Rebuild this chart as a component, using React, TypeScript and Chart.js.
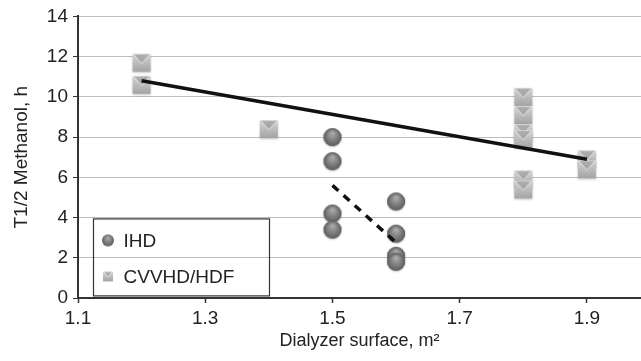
import React, { useEffect, useRef } from "react";
import { Chart, registerables } from "chart.js";

Chart.register(...registerables);

// ---- data ----
const ihdX = [1.5, 1.5, 1.5, 1.5, 1.6, 1.6, 1.6, 1.6];
const ihdY = [8.0, 6.8, 4.2, 3.4, 4.8, 3.2, 2.1, 1.8];
const cvvX = [1.2, 1.2, 1.4, 1.8, 1.8, 1.8, 1.8, 1.8, 1.8, 1.9, 1.9];
const cvvY = [11.7, 10.6, 8.4, 10.0, 9.1, 8.2, 7.9, 5.9, 5.4, 6.9, 6.4];
const ihdTrendX = [1.5, 1.6];
const ihdTrendY = [5.6, 2.75];
const cvvTrendX = [1.2, 1.9];
const cvvTrendY = [10.8, 6.9];
const xTickValues = [1.1, 1.3, 1.5, 1.7, 1.9];
const seriesLabels = ["IHD", "CVVHD/HDF"];

const FONT = "'Liberation Sans', Arial, sans-serif";

function makeSphere(d: number, shadow: boolean): HTMLCanvasElement {
  const pad = shadow ? 3 : 1;
  const c = document.createElement("canvas");
  c.width = d + pad * 2;
  c.height = d + pad * 2;
  const ctx = c.getContext("2d")!;
  const cx = c.width / 2;
  const cy = c.height / 2;
  const r = d / 2;
  if (shadow) {
    ctx.save();
    ctx.shadowColor = "rgba(0,0,0,0.25)";
    ctx.shadowBlur = 2;
    ctx.shadowOffsetY = 1;
    ctx.beginPath();
    ctx.arc(cx, cy, r, 0, Math.PI * 2);
    ctx.fillStyle = "#6e6e6e";
    ctx.fill();
    ctx.restore();
  }
  const g = ctx.createRadialGradient(cx, cy - r * 0.45, r * 0.1, cx, cy, r);
  g.addColorStop(0, "#a9a9a9");
  g.addColorStop(0.55, "#7e7e7e");
  g.addColorStop(1, "#5c5c5c");
  ctx.beginPath();
  ctx.arc(cx, cy, r, 0, Math.PI * 2);
  ctx.fillStyle = g;
  ctx.fill();
  return c;
}

function makeSquare(s: number, shadow: boolean): HTMLCanvasElement {
  const pad = shadow ? 3 : 1;
  const c = document.createElement("canvas");
  c.width = s + pad * 2;
  c.height = s + pad * 2;
  const ctx = c.getContext("2d")!;
  const x0 = pad;
  const y0 = pad;
  if (shadow) {
    ctx.save();
    ctx.shadowColor = "rgba(0,0,0,0.25)";
    ctx.shadowBlur = 2;
    ctx.shadowOffsetY = 1;
    ctx.fillStyle = "#aaaaaa";
    ctx.fillRect(x0, y0, s, s);
    ctx.restore();
  }
  const g = ctx.createLinearGradient(0, y0, 0, y0 + s);
  g.addColorStop(0, "#d4d4d4");
  g.addColorStop(1, "#a4a4a4");
  ctx.fillStyle = g;
  ctx.fillRect(x0, y0, s, s);
  const g2 = ctx.createLinearGradient(0, y0, 0, y0 + s * 0.55);
  g2.addColorStop(0, "#b0b0b0");
  g2.addColorStop(1, "#a2a2a2");
  ctx.beginPath();
  ctx.moveTo(x0 + 1.5, y0 + 1);
  ctx.lineTo(x0 + s - 1.5, y0 + 1);
  ctx.lineTo(x0 + s / 2, y0 + s * 0.55);
  ctx.closePath();
  ctx.fillStyle = g2;
  ctx.fill();
  ctx.strokeStyle = "rgba(235,235,235,0.9)";
  ctx.lineWidth = 1;
  ctx.beginPath();
  ctx.moveTo(x0 + 0.5, y0 + 0.5);
  ctx.lineTo(x0 + s / 2, y0 + s * 0.55);
  ctx.lineTo(x0 + s - 0.5, y0 + 0.5);
  ctx.stroke();
  return c;
}

export default function App() {
  const ref = useRef<HTMLCanvasElement | null>(null);

  useEffect(() => {
    document.body.style.margin = "0";
    const canvas = ref.current;
    if (!canvas) return;

    const sphere = makeSphere(18, true);
    const square = makeSquare(18, true);
    const sphereSmall = makeSphere(12, false);
    const squareSmall = makeSquare(10, false);

    const legendPlugin = {
      id: "insideLegend",
      afterDraw(chart: any) {
        const { ctx, chartArea } = chart;
        const left = chartArea.left + 15.5;
        const top = chartArea.top + 202.5;
        const w = 176;
        const h = 77;
        ctx.save();
        ctx.strokeStyle = "#333";
        ctx.lineWidth = 1.2;
        ctx.strokeRect(left, top, w, h);
        ctx.font = `19px ${FONT}`;
        ctx.fillStyle = "#222";
        ctx.textBaseline = "middle";
        ctx.textAlign = "left";
        const rows = [
          { img: sphereSmall, label: seriesLabels[0], y: top + 21.5 },
          { img: squareSmall, label: seriesLabels[1], y: top + 57.5 },
        ];
        rows.forEach((r) => {
          ctx.drawImage(r.img, left + 14.5 - r.img.width / 2, r.y - r.img.height / 2);
          ctx.fillText(r.label, left + 30, r.y + 1);
        });
        ctx.restore();
      },
    };

    const chart = new Chart(canvas, {
      type: "scatter",
      data: {
        datasets: [
          {
            label: "CVVHD/HDF trend",
            data: cvvTrendX.map((x, i) => ({ x, y: cvvTrendY[i] })),
            showLine: true,
            borderColor: "#111",
            borderWidth: 3.5,
            pointRadius: 0,
            order: 0,
          },
          {
            label: "IHD trend",
            data: ihdTrendX.map((x, i) => ({ x, y: ihdTrendY[i] })),
            showLine: true,
            borderColor: "#111",
            borderWidth: 3.5,
            borderDash: [8, 7],
            pointRadius: 0,
            order: 0,
          },
          {
            label: seriesLabels[0],
            data: ihdX.map((x, i) => ({ x, y: ihdY[i] })),
            pointStyle: sphere,
            pointRadius: 9,
            order: 1,
          },
          {
            label: seriesLabels[1],
            data: cvvX.map((x, i) => ({ x, y: cvvY[i] })),
            pointStyle: square,
            pointRadius: 9,
            order: 2,
          },
        ],
      },
      options: {
        animation: false,
        responsive: false,
        maintainAspectRatio: false,
        layout: { autoPadding: false, padding: { top: 16, left: 0, right: 0, bottom: 0 } },
        plugins: {
          legend: { display: false },
          tooltip: { enabled: false },
        },
        scales: {
          x: {
            type: "linear",
            min: 1.1,
            max: 1.985,
            afterBuildTicks: (scale: any) => {
              scale.ticks = xTickValues.map((v) => ({ value: v }));
            },
            afterFit: (scale: any) => {
              scale.height = 63;
              scale.paddingRight = 0;
              scale.paddingLeft = 0;
            },
            grid: {
              drawOnChartArea: false,
              drawTicks: true,
              tickLength: 5,
              tickColor: "#333",
              tickWidth: 1.5,
            },
            border: { color: "#333", width: 2 },
            ticks: {
              color: "#222",
              font: { family: FONT, size: 19 },
              padding: 4,
              maxRotation: 0,
              callback: (v: any) => Number(v).toFixed(1),
            },
            title: {
              display: true,
              text: "Dialyzer surface, m²",
              color: "#222",
              font: { family: FONT, size: 18 },
              padding: { top: 0, bottom: 9 },
            },
          },
          y: {
            min: 0,
            max: 14,
            ticks: {
              stepSize: 2,
              color: "#222",
              font: { family: FONT, size: 19 },
              padding: 5,
            },
            afterFit: (scale: any) => {
              scale.width = 78;
            },
            grid: {
              color: "#bdbdbd",
              lineWidth: 1,
              tickLength: 5,
              tickColor: "#333",
            },
            border: { color: "#333", width: 2 },
            title: {
              display: true,
              text: "T1/2 Methanol, h",
              color: "#222",
              font: { family: FONT, size: 19 },
              padding: { top: 10, bottom: 0 },
            },
          },
        },
      },
      plugins: [legendPlugin],
    });

    return () => {
      chart.destroy();
    };
  }, []);

  return (
    <div style={{ width: 641, height: 361, position: "relative", background: "#fff" }}>
      <canvas ref={ref} width={641} height={361} style={{ display: "block" }} />
    </div>
  );
}
